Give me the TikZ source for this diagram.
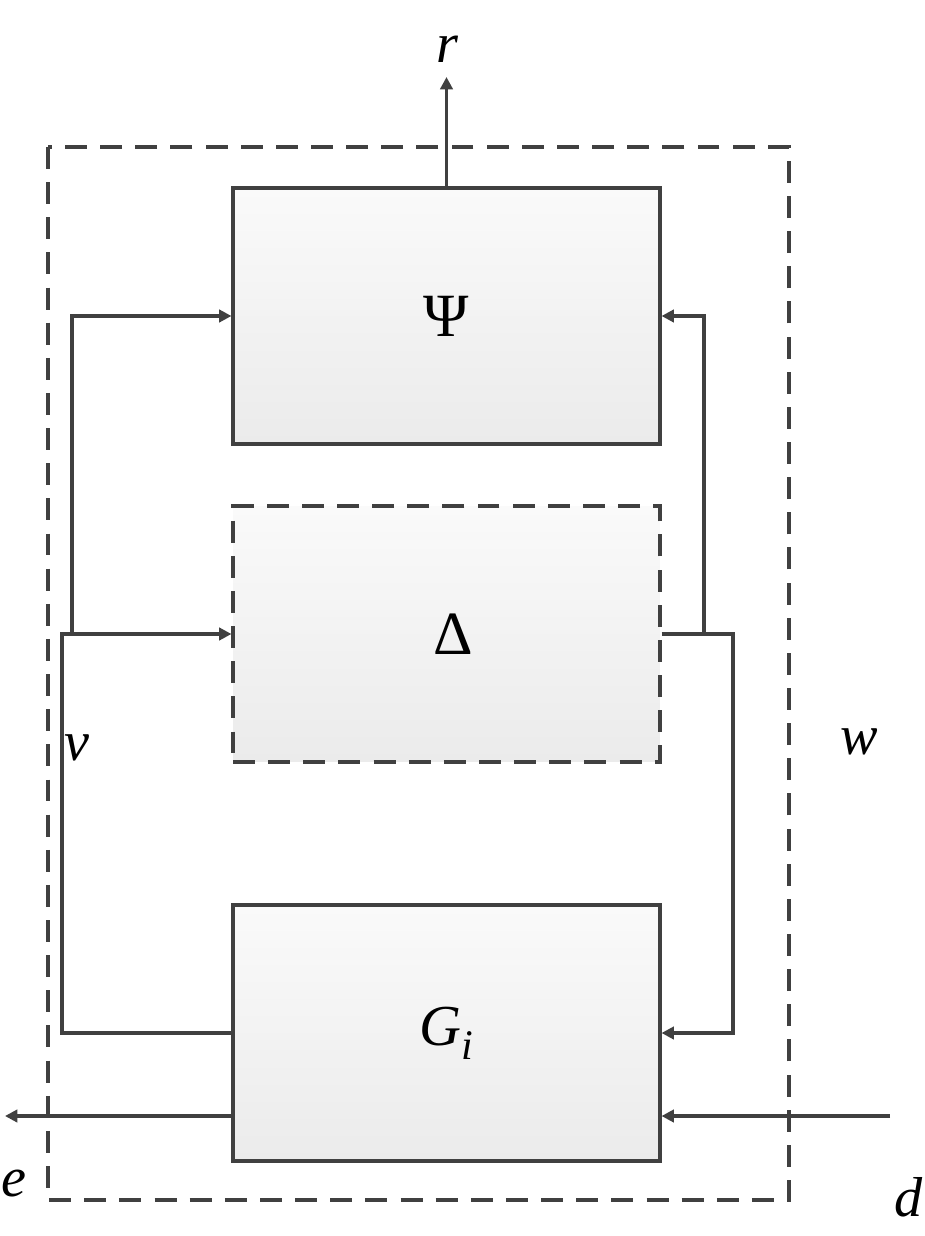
\documentclass[tikz,border=0pt]{standalone}
\usepackage{fontspec}
\setmainfont{Liberation Serif}
\usetikzlibrary{arrows.meta}
\usetikzlibrary{positioning}
\definecolor{linegray}{HTML}{404040}
\definecolor{boxtop}{HTML}{FAFAFA}
\definecolor{boxbot}{HTML}{EBEBEB}

\begin{document}
\begin{tikzpicture}[x=0.02cm,y=-0.02cm,
    line/.style={draw=linegray,line width=1.8pt},
    sig/.style={line,-{Triangle[length=7pt,width=7pt]}},
    dashline/.style={dash pattern=on 12.5pt off 7.5pt},
    blk/.style={line,top color=boxtop,bottom color=boxbot,
        minimum width=8.54cm,minimum height=5.12cm,inner sep=0pt,
        font=\fontsize{35}{42}\selectfont},
    lbl/.style={inner sep=0pt,font=\fontsize{32}{38}\selectfont\itshape}]

    \useasboundingbox (0,0) rectangle (924,1236);

    %outer dashed frame
    \draw[line,dashline] (48,147) rectangle (789,1200);

    %blocks
    \node[blk] (psi) at (446.5,316) {Ψ};
    \node[blk,dashline] (delta) at (446.5,634) {\hspace{0.28cm}Δ};
    \node[blk] (gi) at (446.5,1033) {\fontsize{33}{40}\selectfont\itshape G\raisebox{-8pt}{\fontsize{24}{28}\selectfont i}};

    %bends and free ends
    \coordinate (vbend) at (62,634);
    \coordinate (vsplit) at (72,634);
    \coordinate (wbend) at (733,634);
    \coordinate (wsplit) at (704,634);
    \coordinate (rout) at (446.5,77);
    \coordinate (eout) at (5,1116);
    \coordinate (din) at (890,1116);

    %signals
    \draw[sig] (gi.west) -| (vbend) -- (delta.west);
    \draw[sig] (vsplit) |- (psi.west);
    \draw[sig] (delta.east) -| (wbend) |- (gi.east);
    \draw[sig] (wsplit) |- (psi.east);
    \draw[sig] (psi.north) -- (rout);
    \draw[sig] (gi.west |- eout) -- (eout);
    \draw[sig] (din) -- (gi.east |- din);

    %labels
    \node[lbl] (rlbl) at (447,49) {r};
    \node[lbl] (vlbl) at (77,748) {v};
    \node[lbl] (wlbl) at (859,742) {w};
    \node[lbl] (elbl) at (14,1184) {e};
    \node[lbl] (dlbl) at (909,1197) {d};

\end{tikzpicture}
\end{document}
